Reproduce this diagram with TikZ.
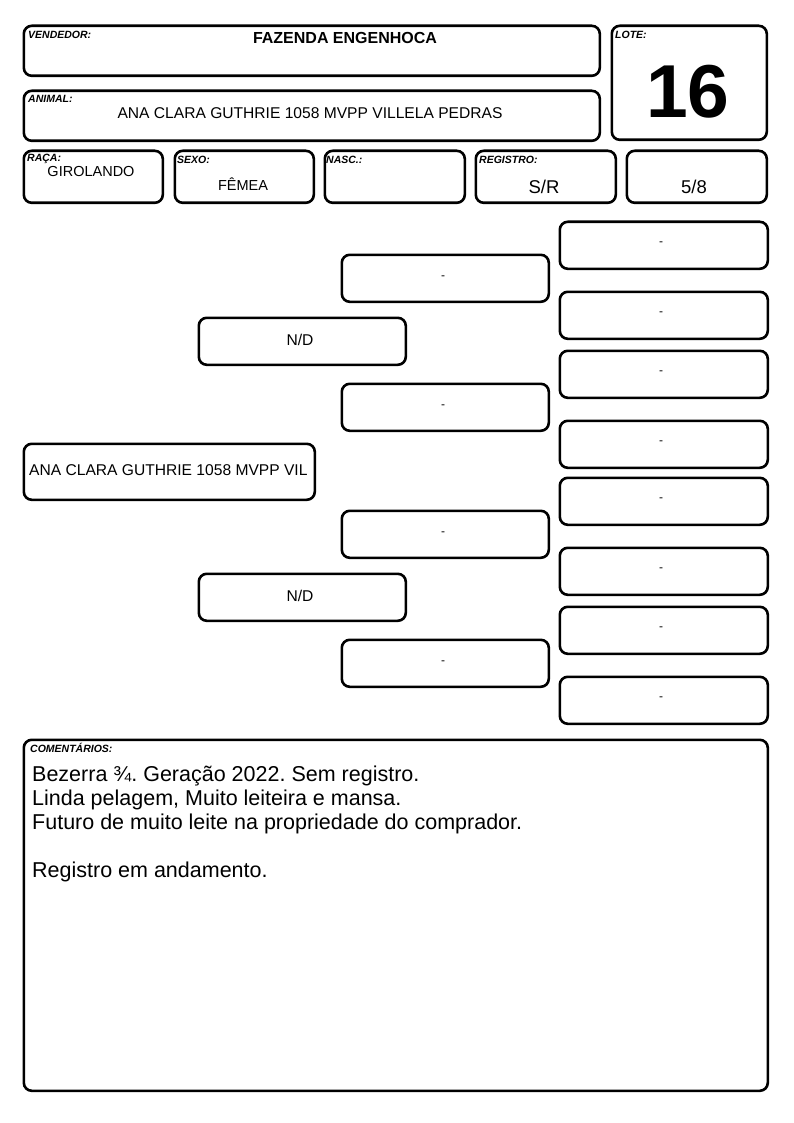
\documentclass[tikz,border=0pt]{standalone}
\usepackage{fontspec}
\setmainfont{Liberation Sans}
\frenchspacing
\begin{document}
\begin{tikzpicture}[x=1pt,y=-1pt,
  box/.style={draw=black, line width=2.6pt, rounded corners=8pt, anchor=north west, inner sep=0pt, fill=white},
  lbl/.style={anchor=base west, inner sep=0pt, font=\fontsize{10.5}{12}\selectfont\bfseries\itshape},
  val/.style={inner sep=0pt, font=\fontsize{15.6}{18}\selectfont},
  dashtxt/.style={inner sep=0pt, font=\fontsize{12}{14}\selectfont},
  cline/.style={anchor=base west, inner sep=0pt, font=\fontsize{21.5}{24}\selectfont}]
\useasboundingbox (0,0) rectangle (794,1123);
% header boxes
\node[box, minimum width=576pt, minimum height=50pt] (vend) at (22.5,24.5) {};
\node[lbl] (vendl) at (28,39) {VENDEDOR:};
\node[val, font=\fontsize{16}{18}\selectfont\bfseries] (vendv) at (345,38) {FAZENDA ENGENHOCA};

\node[box, minimum width=155pt, minimum height=114pt] (lote) at (610.5,24.5) {};
\node[lbl] (lotel) at (615,39) {LOTE:};
\node[inner sep=0pt, font=\fontsize{75}{80}\selectfont\bfseries] (lotev) at (688,92) {16};

\node[box, minimum width=576pt, minimum height=50pt] (anim) at (22.5,89.5) {};
\node[lbl] (animl) at (28,103) {ANIMAL:};
\node[val] (animv) at (310,113) {ANA CLARA GUTHRIE 1058 MVPP VILLELA PEDRAS};

% info row
\node[box, minimum width=139pt, minimum height=52pt] (raca) at (22.5,149.5) {};
\node[lbl] (racal) at (27,162) {RAÇA:};
\node[val, font=\fontsize{14.5}{16}\selectfont] (racav) at (91,172) {GIROLANDO};

\node[box, minimum width=139pt, minimum height=52pt] (sexo) at (173.5,149.5) {};
\node[lbl] (sexol) at (177,164) {SEXO:};
\node[val, font=\fontsize{14.5}{16}\selectfont] (sexov) at (243,184) {FÊMEA};

\node[box, minimum width=140pt, minimum height=52pt] (nasc) at (323.5,149.5) {};
\node[lbl] (nascl) at (326,164) {NASC.:};

\node[box, minimum width=140pt, minimum height=52pt] (reg) at (474.5,149.5) {};
\node[lbl] (regl) at (479,164) {REGISTRO:};
\node[val, font=\fontsize{18.5}{20}\selectfont] (regv) at (544,187) {S/R};

\node[box, minimum width=140pt, minimum height=52pt] (grau) at (625.5,149.5) {};
\node[val, font=\fontsize{18.5}{20}\selectfont] (grauv) at (694,187) {5/8};

% pedigree
\node[box, minimum width=291pt, minimum height=56pt] (p0) at (22.5,442.5) {};
\node[val, anchor=west] (p0v) at (29,470) {ANA CLARA GUTHRIE 1058 MVPP VIL};

\node[box, minimum width=207pt, minimum height=47pt] (p1) at (197.5,316.5) {};
\node[val] (p1v) at (300,340) {N/D};
\node[box, minimum width=207pt, minimum height=47pt] (p2) at (197.5,572.5) {};
\node[val] (p2v) at (300,596) {N/D};

\foreach \y [count=\i] in {253.5,382.5,509.5,638.5}{
  \node[box, minimum width=207pt, minimum height=47pt] (m\i) at (340.5,\y) {};
  \node[dashtxt] (m\i v) at (443,\y+24) {-};
}
\foreach \y [count=\i] in {220.5,290.5,349.5,419.5,476.5,546.5,605.5,675.5}{
  \node[box, minimum width=208pt, minimum height=47pt] (r\i) at (558.5,\y) {};
  \node[dashtxt] (r\i v) at (661,\y+23) {-};
}

% comments
\node[box, minimum width=744pt, minimum height=351pt] (com) at (22.5,738.5) {};
\node[lbl] (coml) at (30,752) {COMENTÁRIOS:};
\node[cline] (c1) at (32,781.5) {Bezerra ¾. Geração 2022. Sem registro.};
\node[cline] (c2) at (32,805.5) {Linda pelagem, Muito leiteira e mansa.};
\node[cline] (c3) at (32,829.5) {Futuro de muito leite na propriedade do comprador.};
\node[cline] (c4) at (32,877.5) {Registro em andamento.};
\end{tikzpicture}
\end{document}
